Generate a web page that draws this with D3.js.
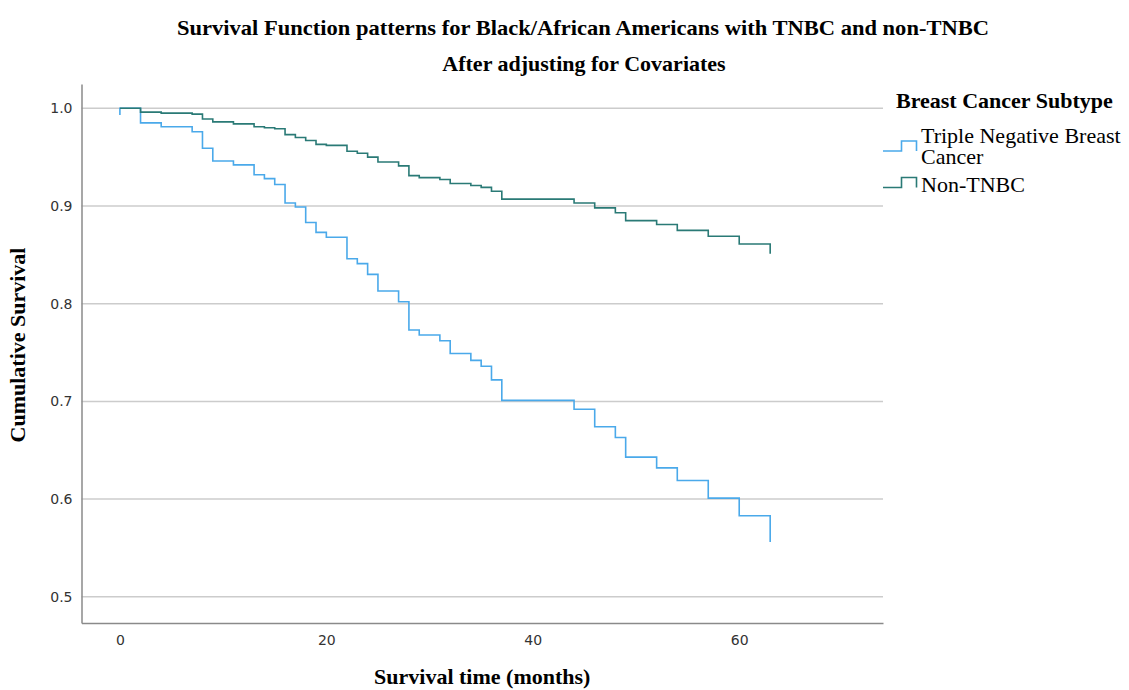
<!DOCTYPE html>
<html>
<head>
<meta charset="utf-8">
<script src="https://cdn.jsdelivr.net/npm/d3@7"></script>
<style>
  html, body { margin: 0; padding: 0; background: #fff; }
  svg { display: block; }
</style>
</head>
<body>
<div id="chart"></div>
<script>
// ---- data ----
const months = [0,2,4,7,8,9,11,13,14,15,16,17,18,19,20,22,23,24,25,27,28,29,31,32,34,35,36,37,44,46,48,49,52,54,57,60,63];
const tnbcSurvival = [1.0,0.985,0.981,0.976,0.959,0.946,0.942,0.932,0.928,0.922,
  0.903,0.899,0.883,0.873,0.868,0.846,0.841,0.830,0.813,0.802,
  0.773,0.768,0.762,0.749,0.742,0.736,0.722,0.701,0.692,0.674,
  0.663,0.643,0.632,0.619,0.601,0.583,0.556];
const nonTnbcSurvival = [1.0,0.996,0.995,0.994,0.989,0.986,0.984,0.981,0.980,0.979,
  0.973,0.970,0.967,0.963,0.962,0.956,0.954,0.950,0.945,0.941,
  0.931,0.929,0.927,0.923,0.921,0.919,0.915,0.907,0.903,0.898,
  0.893,0.885,0.881,0.875,0.869,0.861,0.851];
const tnbcInitial = 0.993;
const seriesNames = ["Triple Negative Breast Cancer", "Non-TNBC"];
const xTicks = [0, 20, 40, 60];
const yTicks = [0.5, 0.6, 0.7, 0.8, 0.9, 1.0];
const titleLines = ["Survival Function patterns for Black/African Americans with TNBC and non-TNBC", "After adjusting for Covariates"];
const xTitle = "Survival time (months)";
const yTitle = "Cumulative Survival";
const legendTitle = "Breast Cancer Subtype";

// ---- layout ----
const W = 1129, H = 690;
const plot = { left: 81.5, right: 883, top: 84, bottom: 623 };
const colors = { tnbc: "#4aa9ea", non: "#2a7a76" };
const serif = "'Liberation Serif', 'Times New Roman', serif";
const sans = "'DejaVu Sans', sans-serif";

const svg = d3.select("#chart").append("svg").attr("width", W).attr("height", H);

const x = d3.scaleLinear().domain([-3.72, 73.93]).range([plot.left, plot.right]);
const y = d3.scaleLinear().domain([0.4732, 1.0248]).range([plot.bottom, plot.top]);

// gridlines
svg.append("g").selectAll("line").data(yTicks).join("line")
  .attr("x1", plot.left).attr("x2", plot.right)
  .attr("y1", d => y(d)).attr("y2", d => y(d))
  .attr("stroke", "#cccccc").attr("stroke-width", 1.5);

// axes
const xAxis = d3.axisBottom(x).tickValues(xTicks).tickSize(0).tickPadding(12).tickFormat(d3.format("d"));
const gx = svg.append("g").attr("transform", `translate(0,${plot.bottom})`).call(xAxis);
gx.select(".domain").attr("stroke", "#8a8a8a").attr("stroke-width", 1.5);
gx.selectAll("text").attr("font-family", sans).attr("font-size", 14).attr("fill", "#333");

const yAxis = d3.axisLeft(y).tickValues(yTicks).tickSize(0).tickPadding(9).tickFormat(d3.format(".1f"));
const gy = svg.append("g").attr("transform", `translate(${plot.left},0)`).call(yAxis);
gy.select(".domain").attr("stroke", "#8a8a8a").attr("stroke-width", 1.5);
gy.selectAll("text").attr("font-family", sans).attr("font-size", 14).attr("fill", "#333");

// curves
const line = d3.line().x(d => x(d.t)).y(d => y(d.s)).curve(d3.curveStepAfter);
const tnbcData = [{ t: months[0], s: tnbcInitial }].concat(months.map((t, i) => ({ t, s: tnbcSurvival[i] })));
const nonData = months.map((t, i) => ({ t, s: nonTnbcSurvival[i] }));

svg.append("path").datum(tnbcData).attr("d", line)
  .attr("fill", "none").attr("stroke", colors.tnbc).attr("stroke-width", 1.6);
svg.append("path").datum(nonData).attr("d", line)
  .attr("fill", "none").attr("stroke", colors.non).attr("stroke-width", 1.6);

// titles
svg.append("text").attr("x", 583).attr("y", 35).attr("text-anchor", "middle")
  .attr("font-family", serif).attr("font-weight", "bold").attr("font-size", 22)
  .attr("textLength", 812).attr("lengthAdjust", "spacingAndGlyphs")
  .text(titleLines[0]);
svg.append("text").attr("x", 584).attr("y", 71).attr("text-anchor", "middle")
  .attr("font-family", serif).attr("font-weight", "bold").attr("font-size", 22)
  .text(titleLines[1]);

svg.append("text").attr("x", (plot.left + plot.right) / 2).attr("y", 684).attr("text-anchor", "middle")
  .attr("font-family", serif).attr("font-weight", "bold").attr("font-size", 22)
  .text(xTitle);
svg.append("text").attr("transform", `translate(25,345) rotate(-90)`).attr("text-anchor", "middle")
  .attr("font-family", serif).attr("font-weight", "bold").attr("font-size", 22)
  .text(yTitle);

// legend
const lg = svg.append("g");
lg.append("text").attr("x", 896).attr("y", 108)
  .attr("font-family", serif).attr("font-weight", "bold").attr("font-size", 22)
  .text(legendTitle);

function stepIcon(yLow, color) {
  const pts = [[883, yLow], [901.5, yLow], [901.5, yLow - 10], [916.5, yLow - 10], [916.5, yLow]];
  lg.append("path").attr("d", d3.line()(pts)).attr("fill", "none")
    .attr("stroke", color).attr("stroke-width", 1.6);
}
stepIcon(151, colors.tnbc);
stepIcon(187.5, colors.non);

const words = seriesNames[0].split(" ");
lg.append("text").attr("x", 921).attr("y", 143)
  .attr("font-family", serif).attr("font-size", 22).text(words.slice(0, 3).join(" "));
lg.append("text").attr("x", 921).attr("y", 164)
  .attr("font-family", serif).attr("font-size", 22).text(words.slice(3).join(" "));
lg.append("text").attr("x", 921).attr("y", 192)
  .attr("font-family", serif).attr("font-size", 22).text(seriesNames[1]);
</script>
</body>
</html>
